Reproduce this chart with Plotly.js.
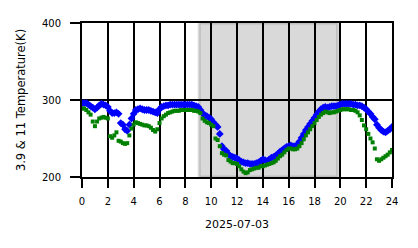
<!DOCTYPE html>
<html>
<head>
<meta charset="utf-8">
<script src="https://cdn.plot.ly/plotly-3.0.1.min.js"></script>
<style>html,body{margin:0;padding:0;background:#fff;}#chart{width:418px;height:248px;}</style>
</head>
<body>
<div id="chart"></div>
<script>
// sample spacing (minutes) of the series, starting at 00:00
const startHour = 0;
const stepMinutes = 10;

// 3.9 um brightness temperature (K), one value every 10 minutes
const t39 = [
  296, 296, 296, 294, 292, 290,
  288, 290, 293, 295, 294, 293,
  291, 286, 283, 283, 284, 282,
  270, 268, 262, 260, 268, 276,
  282, 287, 288, 289, 288, 287,
  287, 287, 286, 285, 284, 283,
  288, 291, 292, 293, 293, 294,
  294, 294, 294, 294, 294, 294,
  294, 294, 294, 294, 293, 292,
  291, 287, 283, 280, 279, 277,
  275, 271, 268, 265, 256, 240,
  236, 234, 230, 227, 226, 225,
  224, 222, 220, 219, 218, 218,
  217, 217, 217, 218, 219, 221,
  223, 222, 221, 223, 225, 226,
  228, 230, 233, 235, 237, 239,
  240, 241, 240, 240, 242, 246,
  251, 256, 261, 265, 269, 273,
  277, 281, 285, 288, 290, 291,
  290, 291, 292, 292, 292, 293,
  294, 295, 295, 295, 295, 295,
  294, 294, 293, 293, 292, 290,
  288, 285, 282, 278, 275, 268,
  264, 261, 259, 258, 260, 262,
  265
];

// 11 um brightness temperature (K)
const t11 = [
  289, 289, 287, 284, 281, 272,
  266, 272, 276, 277, 278, 277,
  276, 253, 251, 254, 258, 247,
  246, 244, 243, 244, 254, 263,
  268, 271, 270, 269, 268, 267,
  267, 266, 264, 261, 259, 262,
  270, 276, 279, 281, 283, 284,
  285, 286, 286, 286, 287, 287,
  287, 287, 287, 287, 286, 286,
  285, 283, 276, 273, 271, 270,
  268, 266, 250, 248, 240, 231,
  229, 228, 222, 220, 218, 218,
  217, 214, 210, 207, 205, 206,
  209, 210, 211, 212, 212, 214,
  214, 215, 216, 217, 218, 219,
  221, 224, 227, 229, 232, 235,
  237, 237, 236, 236, 237, 240,
  244, 249, 254, 258, 262, 266,
  270, 274, 278, 281, 283, 285,
  284, 283, 284, 284, 285, 286,
  287, 288, 288, 288, 288, 287,
  287, 286, 284, 280, 274, 267,
  262, 256, 250, 245, 237, 223,
  221, 223, 225, 227, 229, 232,
  235
];

// shaded (night) interval in hours
const shadeStart = 9.08;
const shadeEnd = 19.79;

const xTickVals = [0, 2, 4, 6, 8, 10, 12, 14, 16, 18, 20, 22, 24];
const yTickVals = [200, 300, 400];
const dateLabel = '2025-07-03';
const yLabel = '3.9 & 11 Temperature(K)';

const hours = t39.map((_, i) => startHour + i * stepMinutes / 60);

const font = 'DejaVu Sans, sans-serif';

const traces = [
  {
    x: hours, y: t39, type: 'scatter', mode: 'markers', name: '3.9',
    marker: {symbol: 'diamond', size: 6, color: '#0000ff', line: {width: 0}}
  },
  {
    x: hours, y: t11, type: 'scatter', mode: 'markers', name: '11',
    marker: {symbol: 'square', size: 4, color: '#008000', line: {width: 0}}
  }
];

const layout = {
  width: 418, height: 248,
  margin: {l: 82, r: 26, t: 23, b: 71, pad: 0},
  paper_bgcolor: '#ffffff', plot_bgcolor: '#ffffff',
  showlegend: false,
  font: {family: font, size: 10, color: '#000'},
  xaxis: {
    range: [0, 24], tickvals: xTickVals, ticktext: xTickVals.map(String),
    showgrid: true, gridcolor: '#000', gridwidth: 2,
    showline: true, linecolor: '#000', linewidth: 2, mirror: true,
    ticks: 'outside', ticklen: 9, tickwidth: 2, tickcolor: '#000',
    ticklabelstandoff: 5,
    zeroline: false,
    tickfont: {family: font, size: 10, color: '#000'},
    title: {text: dateLabel, font: {family: font, size: 11, color: '#000'}, standoff: 14}
  },
  yaxis: {
    range: [200, 400], tickvals: yTickVals, ticktext: yTickVals.map(String),
    showgrid: true, gridcolor: '#000', gridwidth: 2,
    showline: true, linecolor: '#000', linewidth: 2, mirror: true,
    ticks: 'outside', ticklen: 10, tickwidth: 2, tickcolor: '#000',
    zeroline: false,
    ticklabelstandoff: 7,
    tickfont: {family: font, size: 10, color: '#000'},
    title: {text: yLabel, font: {family: font, size: 11.5, color: '#000'}, standoff: 14}
  },
  shapes: [{
    type: 'rect', xref: 'x', yref: 'y', x0: shadeStart, x1: shadeEnd, y0: 200, y1: 400,
    fillcolor: 'rgba(128,128,128,0.3)', line: {color: 'rgba(128,128,128,0.3)', width: 3},
    layer: 'below'
  }]
};

Plotly.newPlot('chart', traces, layout, {displayModeBar: false, staticPlot: true});
</script>
</body>
</html>
